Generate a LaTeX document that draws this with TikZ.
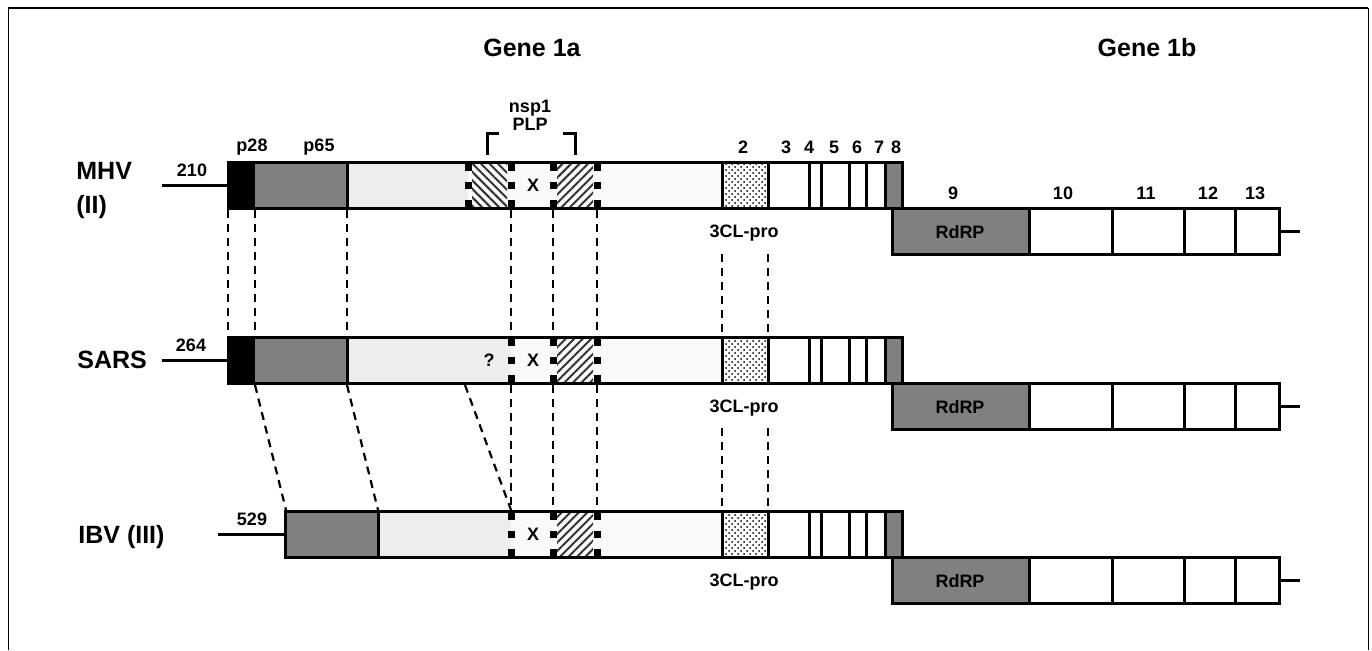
\documentclass[tikz,border=0pt]{standalone}
\usepackage{fontspec}
\setmainfont{Liberation Sans}
\usetikzlibrary{patterns,patterns.meta}

\begin{document}
\begin{tikzpicture}[x=0.5pt,y=-0.5pt,
    bar/.style={line width=1.5pt},
    guide/.style={line width=1.1pt,dash pattern=on 4pt off 3pt},
    cutline/.style={line width=3.5pt,dash pattern=on 3.5pt off 5.5pt},
    lbl/.style={inner sep=0pt,font=\fontsize{9}{9}\selectfont\bfseries},
    big/.style={inner sep=0pt,font=\fontsize{12.5}{17}\selectfont\bfseries},
    darkgray/.style={fill=black!50},
    speckle/.style={fill=black!7},
    pale/.style={fill=black!2},
    hatchA/.style={pattern={Lines[angle=-45,distance=3pt,line width=1pt]},pattern color=black!80},
    hatchB/.style={pattern={Lines[angle=45,distance=3pt,line width=1pt]},pattern color=black!80},
    stipple/.style={pattern=crosshatch dots,pattern color=black}]
  \useasboundingbox (0,0) rectangle (1372,650);
  \draw[line width=0.5pt] (8,650) -- (8,8) -- (1368,8) -- (1368,650);
  \draw[line width=1pt] (8,8) -- (1368,8);

  \node[big] (gene1a) at (532,48) {Gene 1a};
  \node[big] (gene1b) at (1147,48) {Gene 1b};

  % names and leaders
  \node[big,align=left,anchor=west] (mhv) at (76,190) {MHV\\(II)};
  \node[big,anchor=west] (sars) at (77,360) {SARS};
  \node[big,anchor=west] (ibv) at (78,537) {IBV (III)};
  \draw[bar] (162,185) -- (228,185);
  \draw[bar] (162,360) -- (228,360);
  \draw[bar] (218,534) -- (285,534);
  \node[lbl] (n210) at (192,170) {210};
  \node[lbl] (n264) at (191,345) {264};
  \node[lbl] (n529) at (252,519) {529};

  % fills of each row
  \fill (228,162) rectangle (255,208);
  \fill[darkgray] (255,162) rectangle (347,208);
  \fill[speckle] (347,162) rectangle (468,208);
  \fill[pale] (468,162) rectangle (511,208);
  \fill[hatchA] (472,162) rectangle (507,208);
  \fill (228,337) rectangle (255,383);
  \fill[darkgray] (255,337) rectangle (347,383);
  \fill[speckle] (347,337) rectangle (511,383);
  \fill[darkgray] (285,511) rectangle (378,557);
  \fill[speckle] (378,511) rectangle (511,557);

  \foreach \t in {162,337,511}{
    \fill[pale] (511,\t) rectangle (722,\t+46);
    \fill[hatchB] (557,\t) rectangle (593,\t+46);
    \fill[stipple] (722,\t) rectangle (768,\t+46);
    \fill[darkgray] (885,\t) rectangle (902,\t+46);
    \fill[darkgray] (892,\t+46) rectangle (1029,\t+92);
    \foreach \x in {722,768,809,821,849,866,885}
      \draw[bar] (\x,\t) -- (\x,\t+46);
    \draw[bar] (892,\t+46) rectangle (1279,\t+92);
    \foreach \x in {1029,1112,1184,1235}
      \draw[bar] (\x,\t+46) -- (\x,\t+92);
    \draw[bar] (1279,\t+69) -- (1300,\t+69);
    \foreach \x in {511,553,597}
      \draw[cutline] (\x,\t+1.5) -- (\x,\t+44.5);
    \node[lbl] (x\t) at (533,\t+23) {X};
    \node[lbl] (cl\t) at (744,\t+71) {3CL-pro};
    \node[lbl] (rdrp\t) at (960,\t+70) {RdRP};
  }

  % outlines
  \draw[bar] (228,162) rectangle (902,208);
  \draw[bar] (347,162) -- (347,208);
  \draw[cutline] (468,163.5) -- (468,206.5);
  \draw[bar] (228,337) rectangle (902,383);
  \draw[bar] (347,337) -- (347,383);
  \node[lbl] (qmark) at (489,360) {?};
  \draw[bar] (285,511) rectangle (902,557);
  \draw[bar] (378,511) -- (378,557);

  % labels of MHV
  \node[lbl] (p28) at (252,147) {p28};
  \node[lbl] (p65) at (319,147) {p65};
  \node[lbl,align=center] (plp) at (530,115) {nsp1\\PLP};
  \draw[line width=1.5pt] (487,155) -- (487,133) -- (499,133);
  \draw[line width=1.5pt] (563,133) -- (575,133) -- (575,155);
  \foreach \x/\n in {743/2,786/3,809/4,834/5,857/6,879/7,896/8}
    \node[lbl] (nsp\n) at (\x,147) {\n};
  \foreach \x/\n in {953/9,1063/10,1146/11,1208/12,1255/13}
    \node[lbl] (nsp\n) at (\x,193) {\n};

  % alignments
  \foreach \x in {228,255,347,511,553,597}
    \draw[guide] (\x,210) -- (\x,336);
  \foreach \x in {722,768}
    \draw[guide] (\x,254) -- (\x,336);
  \foreach \x in {511,553,597}
    \draw[guide] (\x,385) -- (\x,510);
  \foreach \x in {722,768}
    \draw[guide] (\x,428) -- (\x,510);
  \draw[guide] (255,385) -- (286,510);
  \draw[guide] (347,385) -- (378,510);
  \draw[guide] (465,385) -- (511,510);
\end{tikzpicture}
\end{document}
